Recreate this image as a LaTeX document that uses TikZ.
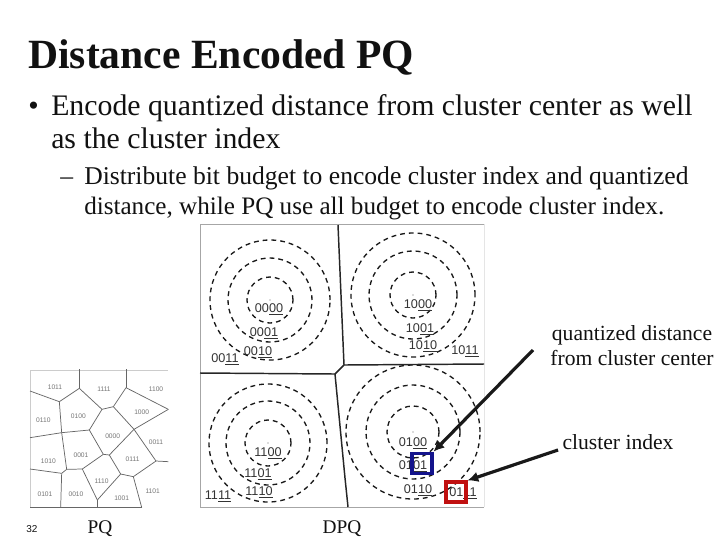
\documentclass[tikz,border=0pt]{standalone}
\usepackage{fontspec}
\setmainfont{Liberation Serif}
\newfontfamily\lblfont{Liberation Sans}
\usetikzlibrary{arrows.meta}
\definecolor{txt}{HTML}{111111}
\definecolor{bluebox}{HTML}{14148C}
\definecolor{redbox}{HTML}{C01010}
\tikzset{
  ring/.style={draw=black!90,line width=1pt,dash pattern=on 3.6pt off 3pt},
  cell/.style={draw=black!85,line width=1.1pt},
  lbl/.style={font=\lblfont\fontsize{9.5}{10}\selectfont,text=black!80,inner sep=0pt},
  tiny/.style={font=\lblfont\fontsize{5}{6}\selectfont,text=black!55,inner sep=0pt},
  pqline/.style={draw=black!60,line width=.55pt},
  linetext/.style={anchor=base west,inner sep=0pt,text=txt},
  title/.style={linetext,font=\bfseries\fontsize{31.2}{33}\selectfont},
  lvlone/.style={linetext,font=\fontsize{22.35}{24}\selectfont},
  lvltwo/.style={linetext,font=\fontsize{19.2}{21}\selectfont},
  lvltwob/.style={linetext,font=\fontsize{18.85}{21}\selectfont},
  note/.style={anchor=base,inner sep=0pt,text=txt,font=\fontsize{16.2}{18}\selectfont},
  caption/.style={anchor=base,inner sep=0pt,text=txt,font=\fontsize{14.5}{16}\selectfont},
  hl/.style={draw,line width=2.4pt,fill=none,inner sep=0pt},
  pointer/.style={draw=black!90,line width=2.4pt,-{Latex[length=8pt,width=8pt]}}
}
\begin{document}
\begin{tikzpicture}[x=.75pt,y=-.75pt]
\useasboundingbox (0,0) rectangle (720,540);
\node[title] (t) at (28,68) {Distance Encoded PQ};
\node[lvlone] (b1) at (28,115) {•};
\node[lvlone] (l1) at (51,115) {Encode quantized distance from cluster center as well};
\node[lvlone] (l2) at (51,148) {as the cluster index};
\node[lvltwo] (d1) at (60,184) {–};
\node[lvltwo] (s1) at (84,184) {Distribute bit budget to encode cluster index and quantized};
\node[lvltwob] (s2) at (84,214) {distance, while PQ use all budget to encode cluster index.};
% DPQ image
\draw[draw=black!10,line width=.6pt] (484,224) -- (484,507);
\draw[draw=black!35,line width=.7pt] (484,224) -- (200,224) -- (200,507) -- (484,507);
\foreach \cx/\cy/\ra/\rb/\rc in {270/300/23/42/60,413/295/23/44/62,268/443/23/42/59,413/432/26/47/67}{
  \draw[ring] (\cx,\cy) circle[radius=\ra*.75pt];
  \draw[ring] (\cx,\cy) circle[radius=\rb*.75pt];
  \draw[ring] (\cx,\cy) circle[radius=\rc*.75pt];
  \fill[black!60] (\cx,\cy) circle[radius=.4pt];
}
\draw[cell] (338,225) -- (344,365) -- (484,364);
\draw[cell] (200,373) -- (335,374) -- (344,365);
\draw[cell] (335,374) -- (345,478) -- (348,507);
\foreach \n/\x/\y/\a/\b in {
 q0/269/309.5/00/00,q1/264/333/00/01,q2/258/352/00/10,q3/225/359/00/11,
 q4/418/305/10/00,q5/420/329/10/01,q6/423/346/10/10,q7/465/351/10/11,
 q8/268/453/11/00,q9/258/474/11/01,q10/259/492/11/10,q11/218/496/11/11,
 q12/413/443/01/00,q13/413/466/01/01,q14/418/490/01/10,q15/463/493/01/11}{
  \node[lbl] (\n) at (\x,\y) {\a\underline{\b}};
}
\node[hl,draw=bluebox,minimum width=15pt,minimum height=15.5pt] (bb) at (422,463.5) {};
\node[hl,draw=redbox,minimum width=15pt,minimum height=15pt] (rb) at (456,492) {};
% notes
\node[note] (n1) at (632,340) {quantized distance};
\node[note] (n2) at (632,365) {from cluster center};
\node[note] (n3) at (618,449) {cluster index};
\coordinate (p1) at (533,350);
\coordinate (p2) at (558,450);
\draw[pointer] (p1) -- (bb.north east);
\draw[pointer] (p2) -- (rb.north east);
% PQ image
\begin{scope}[x=.25pt,y=-.25pt,shift={(15pt,-270pt)}]
\draw[draw=black!20,line width=.5pt] (30,442) -- (30,30) -- (445,30);
\draw[pqline] (30,442) -- (365,442);
\foreach \a/\b/\c/\d in {178/28/178/85,178/85/118/125,30/93/118/125,118/125/125/218,30/233/125/218,125/218/208/210,125/218/140/328,30/327/125/340,125/340/140/328,125/340/122/442,140/328/187/327,187/327/250/283,187/327/232/420,232/420/232/442,232/420/302/342,250/283/268/285,208/210/250/283,208/210/246/148,178/85/246/148,246/148/280/140,280/140/318/83,318/83/318/28,318/83/445/148,445/148/342/208,280/140/342/208,342/208/268/285,342/208/408/303,408/303/445/305,408/303/340/350,268/285/302/342,302/342/340/350,340/350/365/442}{
  \draw[pqline] (\a,\b) -- (\c,\d);
}
\foreach \n/\x/\y/\t in {r0/105/83/1011,r1/252/87/1111,r2/408/88/1100,r3/70/180/0110,r4/175/170/0100,r5/365/158/1000,r6/278/230/0000,r7/408/246/0011,r8/85/305/1010,r9/183/287/0001,r10/338/298/0111,r11/245/365/1110,r12/305/415/1001,r13/75/402/0101,r14/168/402/0010,r15/398/395/1101}{
  \node[tiny] (\n) at (\x,\y) {\t};
}
\end{scope}
\node[anchor=base,inner sep=0pt,font=\lblfont\fontsize{7.5}{9}\selectfont,text=txt] (pg) at (32,532) {32};
\node[caption] (pq) at (100,533) {PQ};
\node[caption] (dpq) at (342,533) {DPQ};
\end{tikzpicture}
\end{document}
